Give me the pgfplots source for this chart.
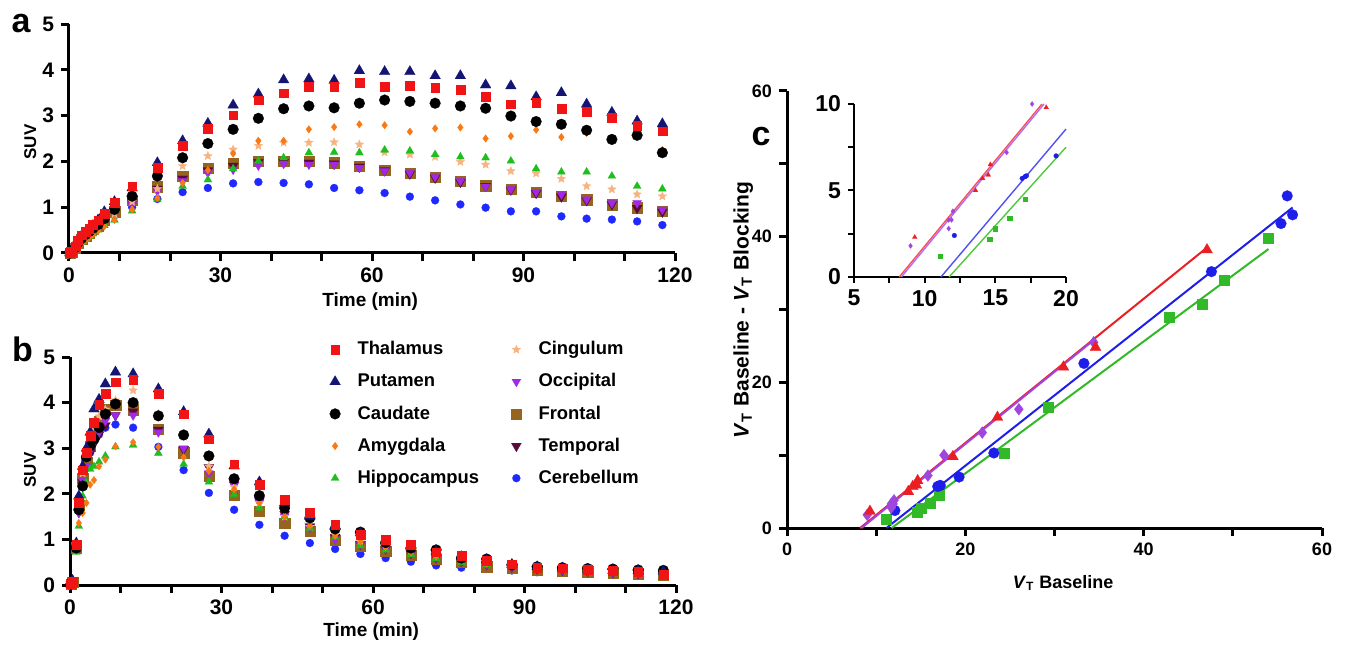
\documentclass[border=0pt]{standalone}
\usepackage{fontspec}
\setmainfont{Liberation Sans}
\usepackage{pgfplots}
\usepackage{pgfplotstable}
\pgfplotsset{compat=1.18}

\definecolor{cTha}{RGB}{240,20,20}
\definecolor{cPut}{RGB}{20,20,115}
\definecolor{cCau}{RGB}{0,0,0}
\definecolor{cAmy}{RGB}{250,120,20}
\definecolor{cHip}{RGB}{30,190,30}
\definecolor{cCin}{RGB}{245,180,130}
\definecolor{cOcc}{RGB}{160,40,230}
\definecolor{cFro}{RGB}{150,100,30}
\definecolor{cTem}{RGB}{90,10,60}
\definecolor{cCer}{RGB}{30,40,255}
\definecolor{kRed}{RGB}{235,30,35}
\definecolor{kPur}{RGB}{160,70,220}
\definecolor{kBlu}{RGB}{30,30,235}
\definecolor{kGre}{RGB}{50,185,40}
\definecolor{iRed}{RGB}{250,80,80}
\definecolor{iPur}{RGB}{170,110,250}
\definecolor{iBlu}{RGB}{80,80,245}
\definecolor{iGre}{RGB}{80,200,60}

\pgfdeclareplotmark{fstar}{%
  \pgfpathmoveto{\pgfpointpolar{90}{\pgfplotmarksize}}%
  \pgfpathlineto{\pgfpointpolar{126}{0.45*\pgfplotmarksize}}%
  \pgfpathlineto{\pgfpointpolar{162}{\pgfplotmarksize}}%
  \pgfpathlineto{\pgfpointpolar{198}{0.45*\pgfplotmarksize}}%
  \pgfpathlineto{\pgfpointpolar{234}{\pgfplotmarksize}}%
  \pgfpathlineto{\pgfpointpolar{270}{0.45*\pgfplotmarksize}}%
  \pgfpathlineto{\pgfpointpolar{306}{\pgfplotmarksize}}%
  \pgfpathlineto{\pgfpointpolar{342}{0.45*\pgfplotmarksize}}%
  \pgfpathlineto{\pgfpointpolar{18}{\pgfplotmarksize}}%
  \pgfpathlineto{\pgfpointpolar{54}{0.45*\pgfplotmarksize}}%
  \pgfpathclose
  \pgfusepathqfillstroke
}

\pgfplotsset{
  gp/.style={
    scale only axis,
    axis lines=left,
    axis line style={-, line width=1.5pt},
    every tick/.style={black, line width=1.5pt},
    tick align=outside,
    major tick length=4pt,
    minor tick length=4pt,
    /pgf/number format/assume math mode=true,
    tick label style={font=\fontsize{10.5}{12}\selectfont\bfseries},
    label style={font=\fontsize{9.5}{11}\selectfont\bfseries},
    clip=false,
  },
  mk/.style={only marks, mark options={draw=#1, fill=#1, line width=0.1pt}},
  sTha/.style={mk=cTha, mark=square*, mark size=2.2pt},
  sPut/.style={mk=cPut, mark=triangle*, mark size=3.1pt},
  sCau/.style={mk=cCau, mark=*, mark size=2.7pt},
  sAmy/.style={mk=cAmy, mark=diamond*, mark size=1.9pt},
  sHip/.style={mk=cHip, mark=triangle*, mark size=2.3pt},
  sCin/.style={mk=cCin, mark=fstar, mark size=2.3pt},
  sOcc/.style={mk=cOcc, mark=triangle*, mark size=2.6pt, every mark/.append style={rotate=180}},
  sFro/.style={mk=cFro, mark=square*, mark size=2.6pt},
  sTem/.style={mk=cTem, mark=triangle*, mark size=2.9pt, every mark/.append style={rotate=180}},
  sCer/.style={mk=cCer, mark=*, mark size=2.0pt},
}

\pgfplotstableread{
t tha put cau amy hip cin occ fro tem cer
0.17 0.00 0.00 0.00 0.00 0.00 0.00 0.00 0.00 0.00 0.00
0.5 0.03 0.03 0.02 0.01 0.01 0.02 0.02 0.02 0.02 0.02
1.25 0.15 0.14 0.12 0.07 0.08 0.10 0.10 0.11 0.10 0.10
1.75 0.28 0.27 0.22 0.14 0.15 0.18 0.20 0.21 0.20 0.20
2.5 0.39 0.38 0.32 0.22 0.24 0.28 0.30 0.31 0.30 0.30
3.25 0.46 0.45 0.40 0.28 0.30 0.34 0.36 0.37 0.36 0.36
4 0.53 0.52 0.47 0.34 0.36 0.40 0.42 0.44 0.43 0.43
4.75 0.62 0.60 0.54 0.40 0.42 0.47 0.50 0.52 0.50 0.50
5.75 0.72 0.72 0.62 0.48 0.50 0.55 0.58 0.60 0.58 0.58
7 0.86 0.90 0.75 0.58 0.60 0.68 0.70 0.73 0.71 0.70
9 1.10 1.12 0.95 0.72 0.72 0.85 0.85 0.90 0.88 0.82
12.5 1.46 1.42 1.24 0.95 0.92 1.12 1.05 1.15 1.10 1.00
17.5 1.86 1.97 1.68 1.20 1.18 1.40 1.35 1.45 1.40 1.18
22.5 2.34 2.45 2.08 1.53 1.46 1.90 1.57 1.68 1.62 1.33
27.5 2.72 2.83 2.39 1.81 1.60 2.12 1.75 1.86 1.80 1.42
32.5 3.01 3.23 2.70 2.17 1.84 2.26 1.82 1.96 1.90 1.52
37.5 3.34 3.47 2.94 2.45 2.01 2.34 1.91 2.01 1.98 1.55
42.5 3.49 3.78 3.15 2.45 2.08 2.41 1.95 2.01 1.98 1.53
47.5 3.64 3.80 3.21 2.70 2.19 2.41 1.93 2.01 1.97 1.50
52.5 3.64 3.77 3.17 2.75 2.20 2.42 1.93 1.97 1.95 1.42
57.5 3.72 3.98 3.27 2.81 2.19 2.37 1.86 1.90 1.88 1.37
62.5 3.64 3.96 3.34 2.79 2.25 2.20 1.79 1.81 1.80 1.31
67.5 3.65 3.96 3.31 2.65 2.23 2.15 1.75 1.75 1.73 1.23
72.5 3.61 3.87 3.27 2.72 2.15 2.10 1.66 1.66 1.64 1.15
77.5 3.56 3.87 3.21 2.74 2.10 1.99 1.57 1.57 1.55 1.06
82.5 3.41 3.67 3.16 2.50 2.08 1.93 1.45 1.47 1.46 0.99
87.5 3.25 3.65 2.99 2.55 2.01 1.79 1.39 1.39 1.38 0.91
92.5 3.28 3.41 2.87 2.69 1.84 1.74 1.33 1.33 1.31 0.91
97.5 3.15 3.50 2.81 2.53 1.77 1.62 1.28 1.24 1.23 0.80
102.5 3.08 3.25 2.68 2.62 1.77 1.46 1.17 1.17 1.15 0.75
107.5 2.96 3.07 2.48 2.50 1.68 1.39 1.09 1.06 1.06 0.73
112.5 2.79 2.88 2.57 2.55 1.46 1.28 1.09 0.99 0.98 0.69
117.5 2.66 2.82 2.19 2.25 1.40 1.24 0.95 0.91 0.90 0.61
}\dataA

\pgfplotstableread{
t tha put cau amy hip cin occ fro tem cer
0.17 0.02 0.02 0.02 0.01 0.01 0.02 0.02 0.02 0.02 0.02
0.5 0.08 0.10 0.07 0.05 0.05 0.07 0.07 0.07 0.07 0.07
1.25 0.88 0.92 0.81 0.78 0.72 0.85 0.80 0.82 0.80 0.80
1.75 1.80 1.95 1.65 1.36 1.29 1.75 1.58 1.75 1.60 1.70
2.5 2.52 2.60 2.17 1.58 1.95 2.45 2.30 2.35 2.25 2.30
3.25 2.90 3.00 2.81 1.80 2.25 2.80 2.60 2.68 2.55 2.60
4 3.27 3.35 3.05 2.20 2.54 3.15 2.95 3.05 2.90 2.90
4.75 3.57 3.86 3.20 2.30 2.60 3.45 3.15 3.35 3.10 3.20
5.75 3.95 4.07 3.45 2.60 2.70 3.70 3.35 3.60 3.30 3.30
7 4.20 4.41 3.75 2.75 2.83 3.85 3.60 3.85 3.50 3.45
9 4.45 4.67 3.97 3.04 3.03 4.05 3.72 3.95 3.72 3.52
12.5 4.50 4.63 4.00 3.13 3.07 4.27 3.72 3.85 3.80 3.45
17.5 4.20 4.30 3.71 3.03 2.89 3.75 3.35 3.42 3.40 3.03
22.5 3.75 3.80 3.29 2.80 2.65 3.25 3.00 2.90 2.98 2.52
27.5 3.20 3.31 2.83 2.50 2.26 2.60 2.45 2.39 2.58 2.02
32.5 2.65 2.61 2.33 2.10 1.99 2.15 2.20 1.97 2.20 1.65
37.5 2.20 2.26 1.96 1.80 1.69 1.80 1.80 1.62 1.85 1.32
42.5 1.87 1.80 1.69 1.50 1.50 1.50 1.50 1.36 1.55 1.08
47.5 1.58 1.50 1.47 1.30 1.25 1.28 1.25 1.18 1.28 0.92
52.5 1.32 1.28 1.23 1.08 1.05 1.10 1.00 0.99 1.05 0.79
57.5 1.10 1.14 1.16 0.95 0.86 0.96 0.90 0.85 0.90 0.68
62.5 0.99 0.96 0.93 0.83 0.77 0.84 0.80 0.75 0.80 0.59
67.5 0.88 0.85 0.81 0.72 0.67 0.74 0.70 0.66 0.70 0.51
72.5 0.72 0.74 0.77 0.63 0.58 0.64 0.60 0.57 0.60 0.43
77.5 0.65 0.62 0.59 0.55 0.50 0.55 0.52 0.50 0.52 0.38
82.5 0.54 0.55 0.57 0.48 0.44 0.48 0.45 0.40 0.45 0.35
87.5 0.46 0.45 0.44 0.42 0.40 0.42 0.40 0.37 0.40 0.32
92.5 0.39 0.40 0.40 0.38 0.35 0.37 0.36 0.33 0.36 0.28
97.5 0.37 0.37 0.38 0.35 0.32 0.34 0.33 0.31 0.33 0.27
102.5 0.33 0.34 0.36 0.32 0.30 0.31 0.30 0.29 0.30 0.26
107.5 0.32 0.32 0.35 0.30 0.28 0.29 0.28 0.27 0.28 0.25
112.5 0.29 0.31 0.33 0.28 0.27 0.27 0.26 0.25 0.26 0.24
117.5 0.22 0.30 0.32 0.26 0.25 0.25 0.24 0.22 0.24 0.22
}\dataB

\pgfplotstableread{
x y
9.3 2.3
13.6 5.0
14.1 5.7
14.5 5.9
14.65 6.5
18.6 9.8
23.6 15.2
31.0 22.1
34.6 24.8
47.1 38.2
}\cRed
\pgfplotstableread{
x y
9.0 1.8
11.7 2.8
11.7 3.3
11.9 3.3
12.0 3.8
15.8 7.2
17.6 10.0
21.9 13.1
26.0 16.3
34.4 25.5
}\cPur
\pgfplotstableread{
x y
12.1 2.4
16.9 5.7
17.1 5.8
17.2 5.85
19.3 7.0
23.2 10.3
33.3 22.6
47.6 35.2
55.4 41.8
56.7 43.0
56.1 45.6
}\cBlu
\pgfplotstableread{
x y
11.1 1.2
14.6 2.2
15.0 2.8
16.0 3.4
17.1 4.5
24.4 10.3
29.3 16.6
42.9 28.9
46.6 30.8
49.0 34.0
54.0 39.8
}\cGre

\begin{document}
\begin{tikzpicture}
\useasboundingbox (0,0) rectangle (672.5pt,327pt);

% panel a
\begin{axis}[gp, at={(34.5pt,200.5pt)}, anchor=south west,
  width=303pt, height=114.5pt,
  xmin=0, xmax=120, ymin=0, ymax=5,
  xtick={0,30,60,90,120}, minor xtick={10,20,40,50,70,80,100,110},
  ytick={0,1,2,3,4,5},
  xlabel={Time (min)}, ylabel={SUV},
  xlabel style={at={(axis description cs:0.497,-0.214)}, anchor=center},
  ylabel style={at={(axis description cs:-0.064,0.485)}, anchor=center, font=\fontsize{8.5}{10}\selectfont\bfseries},
]
\addplot[sCer] table[x=t,y=cer]{\dataA};
\addplot[sFro] table[x=t,y=fro]{\dataA};
\addplot[sTem] table[x=t,y=tem]{\dataA};
\addplot[sOcc] table[x=t,y=occ]{\dataA};
\addplot[sCin] table[x=t,y=cin]{\dataA};
\addplot[sHip] table[x=t,y=hip]{\dataA};
\addplot[sAmy] table[x=t,y=amy]{\dataA};
\addplot[sCau] table[x=t,y=cau]{\dataA};
\addplot[sPut] table[x=t,y=put]{\dataA};
\addplot[sTha] table[x=t,y=tha]{\dataA};
\end{axis}

% panel b
\begin{axis}[gp, at={(35pt,34.5pt)}, anchor=south west,
  width=303pt, height=114pt,
  xmin=0, xmax=120, ymin=0, ymax=5,
  xtick={0,30,60,90,120}, minor xtick={10,20,40,50,70,80,100,110},
  ytick={0,1,2,3,4,5},
  xlabel={Time (min)}, ylabel={SUV},
  xlabel style={at={(axis description cs:0.497,-0.206)}, anchor=center},
  ylabel style={at={(axis description cs:-0.066,0.504)}, anchor=center, font=\fontsize{8.5}{10}\selectfont\bfseries},
  legend style={at={(axis description cs:0.418,1.105)}, anchor=north west, draw=none, fill=none,
    font=\fontsize{9.2}{11}\selectfont\bfseries, row sep=3.9pt,
    /tikz/every odd column/.append style={column sep=6.5pt},
    /tikz/every even column/.append style={column sep=14pt}},
  legend columns=2, legend cell align=left,
]
\addplot[sCer, forget plot] table[x=t,y=cer]{\dataB};
\addplot[sFro, forget plot] table[x=t,y=fro]{\dataB};
\addplot[sTem, forget plot] table[x=t,y=tem]{\dataB};
\addplot[sOcc, forget plot] table[x=t,y=occ]{\dataB};
\addplot[sCin, forget plot] table[x=t,y=cin]{\dataB};
\addplot[sHip, forget plot] table[x=t,y=hip]{\dataB};
\addplot[sAmy, forget plot] table[x=t,y=amy]{\dataB};
\addplot[sCau, forget plot] table[x=t,y=cau]{\dataB};
\addplot[sPut, forget plot] table[x=t,y=put]{\dataB};
\addplot[sTha, forget plot] table[x=t,y=tha]{\dataB};
\addlegendimage{sTha}\addlegendentry{Thalamus}
\addlegendimage{sCin}\addlegendentry{Cingulum}
\addlegendimage{sPut}\addlegendentry{Putamen}
\addlegendimage{sOcc}\addlegendentry{Occipital}
\addlegendimage{sCau}\addlegendentry{Caudate}
\addlegendimage{sFro}\addlegendentry{Frontal}
\addlegendimage{sAmy}\addlegendentry{Amygdala}
\addlegendimage{sTem}\addlegendentry{Temporal}
\addlegendimage{sHip}\addlegendentry{Hippocampus}
\addlegendimage{sCer}\addlegendentry{Cerebellum}
\end{axis}

% panel c
\begin{axis}[gp, at={(393.5pt,63pt)}, anchor=south west,
  width=267.5pt, height=218.5pt,
  xmin=0, xmax=60, ymin=0, ymax=60,
  xtick={0,20,40,60}, minor xtick={10,30,50},
  ytick={0,20,40,60}, minor ytick={10,30,50},
  tick label style={font=\fontsize{9}{10}\selectfont\bfseries},
  xlabel={\textit{V}\textsubscript{T} Baseline},
  ylabel={\textit{V}\textsubscript{T} Baseline - \textit{V}\textsubscript{T} Blocking},
  xlabel style={at={(axis description cs:0.516,-0.126)}, anchor=center, font=\fontsize{9}{11}\selectfont\bfseries},
  ylabel style={at={(axis description cs:-0.082,0.499)}, anchor=center, font=\fontsize{10.5}{12}\selectfont\bfseries},
]
\addplot[kRed, line width=1pt] coordinates {(8.2,0) (47.1,38.5)};
\addplot[kPur, line width=1pt] coordinates {(8.35,0) (34.4,25.8)};
\addplot[kBlu, line width=1pt] coordinates {(11.15,0) (56.7,44.0)};
\addplot[kGre, line width=1pt] coordinates {(11.73,0) (54.0,38.3)};
\addplot[mk=kGre, mark=square*, mark size=2.5pt] table{\cGre};
\addplot[mk=kBlu, mark=*, mark size=2.7pt] table{\cBlu};
\addplot[mk=kPur, mark=diamond*, mark size=3pt] table{\cPur};
\addplot[mk=kRed, mark=triangle*, mark size=3.2pt] table{\cRed};
\end{axis}

% inset
\begin{axis}[gp, at={(427pt,188.5pt)}, anchor=south west,
  width=106pt, height=86.5pt,
  xmin=5, xmax=20, ymin=0, ymax=10,
  axis line style={-, line width=1pt},
  every tick/.style={black, line width=1pt},
  major tick length=3pt, minor tick length=3pt,
  tick label style={font=\fontsize{11.5}{13}\selectfont\bfseries},
  xtick={5,10,15,20}, minor xtick={7.5,12.5,17.5},
  ytick={0,5,10}, minor ytick={2.5,7.5},
  restrict x to domain=5:20.5, restrict y to domain=0:10.5,
]
\addplot[iRed, line width=0.7pt] coordinates {(8.2,0) (18.3,10)};
\addplot[iPur, line width=0.7pt] coordinates {(8.35,0) (18.45,10)};
\addplot[iBlu, line width=0.7pt] coordinates {(11.15,0) (20,8.55)};
\addplot[iGre, line width=0.7pt] coordinates {(11.73,0) (20,7.5)};
\addplot[mk=kGre, mark=square*, mark size=1.1pt] table{\cGre};
\addplot[mk=kBlu, mark=*, mark size=1.2pt] table{\cBlu};
\addplot[mk=kPur, mark=diamond*, mark size=1.3pt] table{\cPur};
\addplot[mk=kRed, mark=triangle*, mark size=1.4pt] table{\cRed};
\end{axis}

\node[font=\fontsize{17}{17}\selectfont\bfseries] at (10.5pt,315pt) {a};
\node[font=\fontsize{17}{17}\selectfont\bfseries] at (11.25pt,152.5pt) {b};
\node[font=\fontsize{17}{17}\selectfont\bfseries] at (380.5pt,258.5pt) {c};
\end{tikzpicture}
\end{document}
